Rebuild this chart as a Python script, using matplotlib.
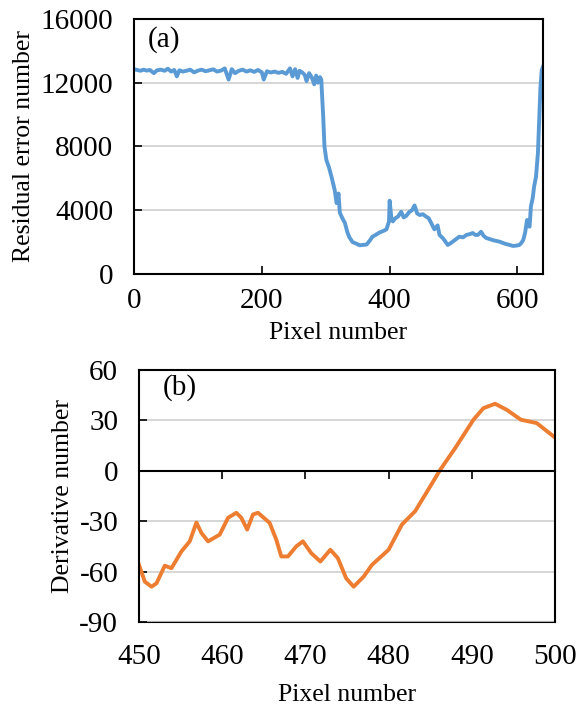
import matplotlib
matplotlib.use("Agg")
import numpy as np
from matplotlib import pyplot as plt

plt.rcParams['font.family'] = ['Liberation Serif', 'DejaVu Serif']
plt.rcParams['font.size'] = 18.5
plt.rcParams['xtick.labelsize'] = 21
plt.rcParams['ytick.labelsize'] = 21
plt.rcParams['axes.unicode_minus'] = False

# residual error along the scan line
pixel_a = [0, 5, 10, 15, 20, 25, 31, 36, 42, 48, 53, 58, 63, 67, 71, 76, 82, 88, 94, 100,
           106, 112, 118, 124, 130, 136, 142, 148, 153, 158, 164, 170, 176, 182, 188, 194,
           200, 203, 208, 214, 220, 226, 232, 238, 244, 248, 252, 256, 259, 263, 267, 270,
           274, 278, 282, 285, 288, 291, 293, 296, 298, 301, 305, 309, 312, 314, 317, 320,
           322, 326, 330, 334, 337, 342, 348, 353, 358, 364, 369, 373, 378, 384, 390, 395,
           399, 400, 403, 405, 409, 413, 418, 422, 426, 431, 435, 439, 443, 447, 452, 457,
           461, 465, 470, 475, 478, 483, 486, 491, 496, 502, 509, 515, 520, 525, 530, 534,
           538, 543, 547, 551, 556, 561, 566, 572, 577, 582, 588, 593, 598, 603, 606, 609,
           612, 615, 617, 619, 621, 624, 626, 629, 632, 634, 636, 638, 640]
residual = [12850, 12800, 12750, 12820, 12760, 12800, 12600, 12780, 12820, 12750, 12880, 12700,
            12800, 12400, 12780, 12700, 12750, 12820, 12650, 12760, 12820, 12720, 12780, 12840,
            12700, 12760, 12900, 12200, 12850, 12600, 12750, 12820, 12700, 12780, 12680, 12800,
            12650, 12200, 12720, 12640, 12700, 12620, 12680, 12560, 12900, 12400, 12850, 12300,
            12750, 12650, 12500, 12100, 12600, 12350, 11900, 12450, 12000, 12350, 12200, 9900,
            8000, 7150, 6700, 6100, 5600, 5270, 4450, 5050, 3850, 3500, 3200, 2600,
            2300, 2000, 1900, 1800, 1820, 1850, 2100, 2340, 2450, 2600, 2700, 2800,
            3300, 4600, 3400, 3300, 3500, 3600, 3900, 3550, 3650, 3900, 4000, 4300,
            3800, 3700, 3750, 3600, 3500, 3200, 2800, 3050, 2450, 2260, 2100, 1820,
            1950, 2130, 2340, 2300, 2450, 2500, 2570, 2450, 2450, 2650, 2400, 2260,
            2200, 2130, 2080, 2030, 1950, 1880, 1820, 1760, 1780, 1820, 1950, 2130,
            2600, 3390, 3000, 2970, 4230, 4800, 5480, 6100, 7590, 9660, 11750, 12800, 13010]

# derivative over pixels 450-500
pixel_b = [450.0, 450.7, 451.5, 452.1, 453.1, 453.9, 455.1, 456.1, 456.9, 457.5, 458.3,
           459.7, 460.7, 461.7, 462.3, 463.0, 463.7, 464.3, 465.7, 466.5, 467.1, 467.9,
           468.9, 469.7, 470.7, 471.8, 473.0, 473.9, 474.9, 475.8, 477.0, 478.0, 480.0,
           481.6, 483.2, 485.0, 486.2, 488.0, 490.2, 491.4, 492.8, 494.2, 495.9, 497.8, 500.0]
derivative = [-56, -66, -69, -67, -56.5, -58, -48, -42, -30.8, -37, -42,
              -38, -28, -25, -28, -35, -26, -25, -31, -41, -51, -51,
              -45, -42, -49, -54, -47, -52, -64, -69, -63, -56, -47,
              -32, -24, -9.3, 0.6, 13.5, 30.4, 37.3, 39.9, 36.3, 30.4, 28.4, 19.8]

fig = plt.figure(figsize=(5.87, 7.08), dpi=100)
grid_c = '#d0d0d0'

# (a) residual error
ax1 = fig.add_axes([0.2283, 0.613, 0.6968, 0.3602])
ax1.plot(pixel_a, residual, color='#5B9BD5', lw=2.8, solid_joinstyle='round')
ax1.set_xlim(0, 640)
ax1.set_ylim(0, 16000)
ax1.set_xticks([0, 200, 400, 600])
ax1.set_yticks([0, 4000, 8000, 12000, 16000])
ax1.yaxis.grid(True, color=grid_c, lw=1.2)
ax1.set_axisbelow(True)
ax1.tick_params(direction='in', length=6, width=1.2)
ax1.tick_params(axis='y', pad=15)
ax1.tick_params(axis='x', pad=10)
for s in ax1.spines.values():
    s.set_linewidth(1.5)
ax1.set_xlabel('Pixel number', labelpad=6)
ax1.set_ylabel('Residual error number', labelpad=4)
ax1.text(0.034, 0.918, '(a)', transform=ax1.transAxes, va='center', fontsize=21)

# (b) derivative
ax2 = fig.add_axes([0.2368, 0.1215, 0.7087, 0.3559])
ax2.plot(pixel_b, derivative, color='#ED7D31', lw=2.8, solid_joinstyle='round')
ax2.set_xlim(450, 500)
ax2.set_ylim(-90, 60)
ax2.set_xticks(np.arange(450, 501, 10))
ax2.set_yticks([-90, -60, -30, 0, 30, 60])
ax2.yaxis.grid(True, color=grid_c, lw=1.2)
ax2.set_axisbelow(True)
ax2.spines['bottom'].set_position(('data', 0))
ax2.tick_params(axis='x', direction='out', length=6, width=1.2, labelbottom=False)
ax2.tick_params(axis='y', direction='in', length=6, width=1.2, pad=15)
for s in ax2.spines.values():
    s.set_linewidth(1.5)

# frame line and tick labels along the lower edge
sec = ax2.secondary_xaxis(0.0)
sec.set_xticks(np.arange(450, 501, 10))
sec.tick_params(length=0, pad=16)
sec.spines['bottom'].set_linewidth(1.5)
sec.set_xlabel('Pixel number', labelpad=10)
ax2.set_ylabel('Derivative number', labelpad=4)
ax2.text(0.058, 0.929, '(b)', transform=ax2.transAxes, va='center', fontsize=21)

fig.savefig('out.png', dpi=100)
